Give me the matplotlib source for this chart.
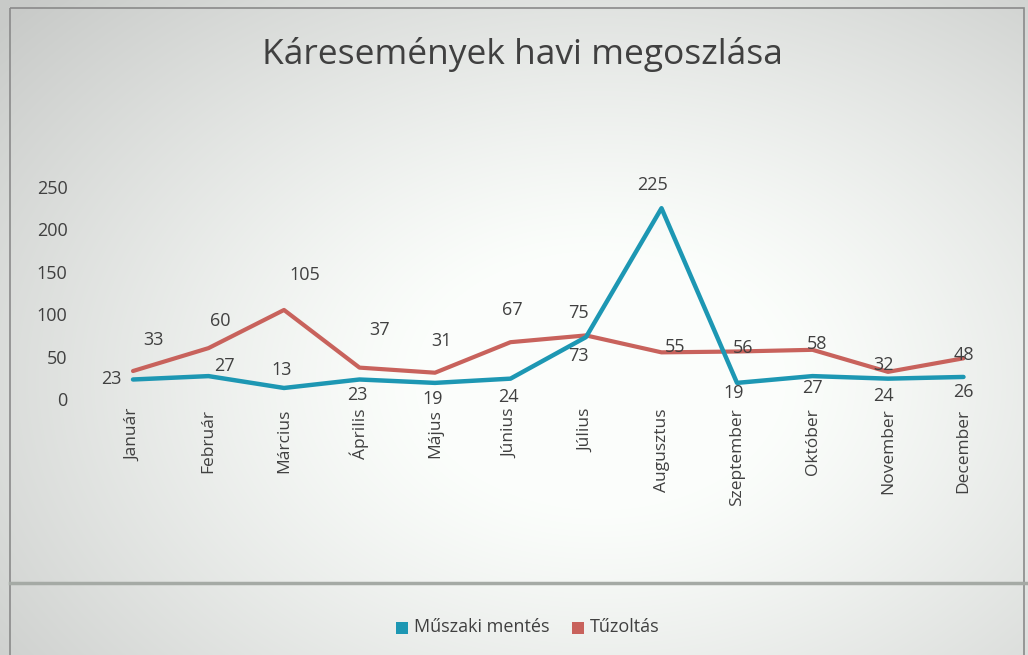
import numpy as np
import matplotlib
matplotlib.use('Agg')
import matplotlib.pyplot as plt
from matplotlib.patches import Rectangle

months = ['Január', 'Február', 'Március', 'Április', 'Május', 'Június',
          'Július', 'Augusztus', 'Szeptember', 'Október', 'November', 'December']
muszaki = [23, 27, 13, 23, 19, 24, 73, 225, 19, 27, 24, 26]
tuzoltas = [33, 60, 105, 37, 31, 67, 75, 55, 56, 58, 32, 48]
y_ticks = [0, 50, 100, 150, 200, 250]

# label offsets in pixels (dx, dy)
muszaki_off = [(-22, 0), (16, 10), (-2, 18), (-2, -16), (-2, -16), (-2, -18),
               (-8, -19), (-9, 23), (-3, -10), (0, -12), (-5, -17), (0, -15)]
tuzoltas_off = [(21, 31), (12, 27), (21, 35), (20, 38), (7, 32), (2, 32),
                (-8, 22), (14, 5), (6, 4), (5, 6), (-5, 7), (0, 3)]

TEAL = '#1d97b3'
RED = '#c8625c'
TXT = '#404040'
FONT = 'Open Sans'

W, H = 1028, 655
fig = plt.figure(figsize=(W / 100, H / 100), dpi=100)

# scanned-page background: light centre, greyish edges
bg = fig.add_axes([0, 0, 1, 1], zorder=-10)
yy, xx = np.mgrid[0:H, 0:W]
d = np.sqrt(((xx - 600) / 600.0) ** 2 + ((yy - 380) / 420.0) ** 2)
shade = 1.0 - 0.2 * np.clip(d - 0.3, 0, 1) ** 1.2
img = np.dstack([shade * 0.985, shade * 0.995, shade * 0.985])
bg.imshow(img, extent=[0, W, H, 0], aspect='auto')
bg.set_xlim(0, W)
bg.set_ylim(H, 0)
bg.axis('off')
bg.add_patch(Rectangle((10, 8), 1014, 660, fill=False, edgecolor='#8a8a8a', lw=1.2))
bg.plot([10, W], [583, 583], color='#a5aaa5', lw=2.5)

# plot area: category i at 133 + 75.5*i px, value 0 at 399 px, 250 at 187 px
left, right = 133 - 37.75, 133 + 75.5 * 11 + 37.75
ax = fig.add_axes([left / W, 1 - 399 / H, (right - left) / W, 212 / H])
ax.set_facecolor('none')
x = np.arange(len(months))
ax.plot(x, tuzoltas, color=RED, lw=3, solid_capstyle='round')
ax.plot(x, muszaki, color=TEAL, lw=3.2, solid_capstyle='round')
ax.set_xlim(-0.5, len(months) - 0.5)
ax.set_ylim(0, 250)

for i, v in enumerate(muszaki):
    ax.annotate(str(v), (i, v), xytext=muszaki_off[i], textcoords='offset pixels',
                ha='center', va='center', fontsize=13, color=TXT, family=FONT)
for i, v in enumerate(tuzoltas):
    ax.annotate(str(v), (i, v), xytext=tuzoltas_off[i], textcoords='offset pixels',
                ha='center', va='center', fontsize=13, color=TXT, family=FONT)

ax.set_yticks(y_ticks)
ax.set_yticklabels([str(t) for t in y_ticks], fontsize=13, color=TXT, family=FONT)
ax.set_xticks(x)
ax.set_xticklabels(months, rotation=90, fontsize=12.5, color=TXT, family=FONT)
ax.tick_params(length=0, pad=7)
ax.tick_params(axis='y', pad=20)
for s in ax.spines.values():
    s.set_visible(False)

fig.text(522 / W, 1 - 55 / H, 'Káresemények havi megoszlása', ha='center', va='center',
         fontsize=25.5, color=TXT, family=FONT)

# legend
fig.patches.append(Rectangle((396 / W, 1 - 634 / H), 12 / W, 12 / H, transform=fig.transFigure,
                             facecolor=TEAL, edgecolor='none'))
fig.text(414 / W, 1 - 627 / H, 'Műszaki mentés', va='center', fontsize=13, color=TXT, family=FONT)
fig.patches.append(Rectangle((572 / W, 1 - 634 / H), 12 / W, 12 / H, transform=fig.transFigure,
                             facecolor=RED, edgecolor='none'))
fig.text(590 / W, 1 - 627 / H, 'Tűzoltás', va='center', fontsize=13, color=TXT, family=FONT)

fig.savefig('out.png', dpi=100)
